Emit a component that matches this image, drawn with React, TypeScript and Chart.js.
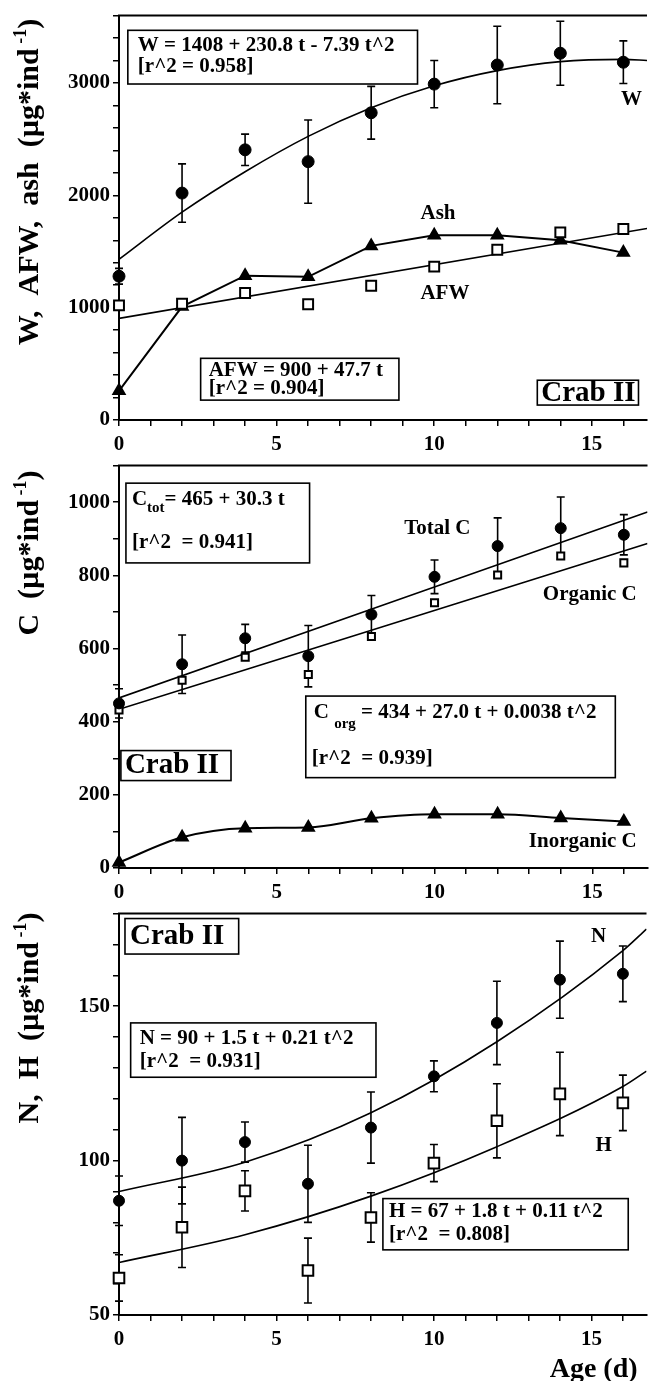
import React, { useEffect, useRef } from "react";
import { Chart, registerables } from "chart.js";
Chart.register(...registerables);

const FONT = "'Liberation Serif', 'Times New Roman', Times, serif";

// ---------- shared x categories ----------
const ages = [0, 2, 4, 6, 8, 10, 12, 14, 16];
const xMax = 16.75;

// ---------- panel 1 : W, AFW, ash ----------
const wValues = [1280, 2020, 2405, 2300, 2735, 2990, 3160, 3265, 3185];
const wErrors = [70, 260, 140, 370, 235, 210, 345, 285, 190];
const afwValues = [1020, 1035, 1130, 1030, 1195, 1365, 1515, 1670, 1700];
const ashValues = [260, 1010, 1285, 1275, 1550, 1645, 1645, 1600, 1490];
const wFitAges = [0, 2, 4, 6, 8, 10, 12, 14, 16, 16.75];
const wFitValues = [1430, 1850, 2210, 2525, 2780, 2975, 3110, 3190, 3210, 3200];
const afwFitAges = [0, 16.75];
const afwFitValues = [905, 1705];

// ---------- panel 2 : carbon ----------
const totalCValues = [450, 557, 628, 579, 693, 796, 880, 929, 911];
const totalCErrors = [40, 80, 38, 84, 52, 46, 77, 85, 55];
const organicCValues = [432, 513, 576, 529, 633, 725, 801, 853, 834];
const inorganicCValues = [15, 84, 109, 111, 136, 147, 147, 137, 127];
const totalCFitAges = [0, 16.75];
const totalCFitValues = [465, 973];
const organicCFitAges = [0, 8, 16.75];
const organicCFitValues = [434, 650, 887];

// ---------- panel 3 : N, H ----------
const nValues = [87, 100, 106, 92.5, 110.7, 127.3, 144.6, 158.6, 160.5];
const nErrors = [8, 14, 6.5, 12.5, 11.5, 5, 13.5, 12.5, 9];
const hValues = [62, 78.4, 90.2, 64.4, 81.6, 99.2, 112.9, 121.6, 118.7];
const hErrors = [7.5, 13, 6.5, 10.5, 8, 6, 12, 13.5, 9];
const nFitAges = [0, 4, 8, 12, 16, 16.75];
const nFitValues = [90, 99.5, 115.5, 138.5, 168, 175];
const hFitAges = [0, 4, 8, 12, 16, 16.75];
const hFitValues = [67, 76, 88.5, 104.5, 124, 129];

const pts = (xs: number[], ys: number[]) => xs.map((x, i) => ({ x, y: ys[i] }));

type Part = { text: string; size?: number; dy?: number };
type Line = { dx: number; dy: number; parts: Part[] };
type Box = { x1: number; y1: number; x2: number; y2: number; size: number; lines: Line[] };
type Label = { x: number; y: number; text: string; size: number };
type Panel = {
  top: number; height: number; padTop: number; xAxisH: number;
  yMin: number; yMax: number; yStep: number; yMajor: number;
  datasets: any[];
  errors: { values: number[]; errors: number[] }[];
  boxes: Box[];
  labels: Label[];
  title: { bx: number; cy: number; main: string };
  ageLabel?: boolean;
};

const circle = (data: any, r = 6) => ({
  data, showLine: false, pointStyle: "circle", pointRadius: r, pointHoverRadius: r,
  backgroundColor: "#000", borderColor: "#000", borderWidth: 1, clip: false,
});
const square = (data: any, r = 7) => ({
  data, showLine: false, pointStyle: "rect", pointRadius: r, pointHoverRadius: r,
  backgroundColor: "#fff", borderColor: "#000", borderWidth: 2, clip: false,
});
const triangle = (data: any, r = 6.5, tension = 0) => ({
  data, showLine: true, pointStyle: "triangle", pointRadius: r, pointHoverRadius: r,
  backgroundColor: "#000", borderColor: "#000", borderWidth: 2, clip: false,
  tension, cubicInterpolationMode: tension > 0 ? "monotone" : "default", fill: false,
});
const fit = (data: any, w = 1.6) => ({
  data, showLine: true, pointRadius: 0, pointHoverRadius: 0, borderColor: "#000",
  borderWidth: w, tension: 0.4, cubicInterpolationMode: "monotone", fill: false,
});

const panels: Panel[] = [
  {
    top: 0, height: 460, padTop: 12, xAxisH: 40,
    yMin: 0, yMax: 3600, yStep: 200, yMajor: 1000,
    datasets: [
      circle(pts(ages, wValues), 6),
      square(pts(ages, afwValues), 7),
      triangle(pts(ages, ashValues), 6.5, 0),
      fit(pts(wFitAges, wFitValues)),
      fit(pts(afwFitAges, afwFitValues)),
    ],
    errors: [{ values: wValues, errors: wErrors }],
    boxes: [
      { x1: 0.28, y1: 3469, x2: 9.47, y2: 2991, size: 21, lines: [
        { dx: 10, dy: 15, parts: [{ text: "W = 1408 + 230.8 t - 7.39 t^2" }] },
        { dx: 10, dy: 36, parts: [{ text: "[r^2 = 0.958]" }] },
      ] },
      { x1: 2.59, y1: 549, x2: 8.88, y2: 177, size: 21, lines: [
        { dx: 8, dy: 12, parts: [{ text: "AFW = 900 + 47.7 t" }] },
        { dx: 8, dy: 30, parts: [{ text: "[r^2 = 0.904]" }] },
      ] },
      { x1: 13.27, y1: 354, x2: 16.48, y2: 133, size: 29, lines: [
        { dx: 4, dy: 13, parts: [{ text: "Crab II" }] },
      ] },
    ],
    labels: [
      { x: 16.26, y: 2850, text: "W", size: 21 },
      { x: 10.12, y: 1841, text: "Ash", size: 21 },
      { x: 10.34, y: 1124, text: "AFW", size: 21 },
    ],
    title: { bx: 38, cy: 182, main: "W,  AFW,  ash  (µg*ind" },
  },
  {
    top: 450, height: 450, padTop: 10, xAxisH: 32,
    yMin: 0, yMax: 1100, yStep: 100, yMajor: 200,
    datasets: [
      circle(pts(ages, totalCValues), 5.5),
      square(pts(ages, organicCValues), 5),
      triangle(pts(ages, inorganicCValues), 6.5, 0.4),
      fit(pts(totalCFitAges, totalCFitValues)),
      fit(pts(organicCFitAges, organicCFitValues)),
    ],
    errors: [{ values: totalCValues, errors: totalCErrors }],
    boxes: [
      { x1: 0.22, y1: 1052, x2: 6.04, y2: 834, size: 21, lines: [
        { dx: 6, dy: 16, parts: [{ text: "C" }, { text: "tot", size: 15, dy: 9 }, { text: "= 465 + 30.3 t" }] },
        { dx: 6, dy: 59, parts: [{ text: "[r^2  = 0.941]" }] },
      ] },
      { x1: 5.92, y1: 470, x2: 15.73, y2: 247, size: 21, lines: [
        { dx: 8, dy: 17, parts: [{ text: "C " }, { text: "org", size: 15, dy: 11 }, { text: " = 434 + 27.0 t + 0.0038 t^2" }] },
        { dx: 6, dy: 63, parts: [{ text: "[r^2  = 0.939]" }] },
      ] },
      { x1: 0.06, y1: 321, x2: 3.55, y2: 239, size: 29, lines: [
        { dx: 4, dy: 15, parts: [{ text: "Crab II" }] },
      ] },
    ],
    labels: [
      { x: 10.09, y: 929, text: "Total C", size: 21 },
      { x: 14.92, y: 747, text: "Organic C", size: 21 },
      { x: 14.7, y: 71, text: "Inorganic C", size: 21 },
    ],
    title: { bx: 38, cy: 103, main: "C  (µg*ind" },
  },
  {
    top: 898, height: 483, padTop: 9, xAxisH: 66,
    yMin: 50, yMax: 180, yStep: 10, yMajor: 50,
    datasets: [
      circle(pts(ages, nValues), 5.5),
      square(pts(ages, hValues), 7.5),
      fit(pts(nFitAges, nFitValues)),
      fit(pts(hFitAges, hFitValues)),
    ],
    errors: [
      { values: nValues, errors: nErrors },
      { values: hValues, errors: hErrors },
    ],
    boxes: [
      { x1: 0.37, y1: 144.6, x2: 8.16, y2: 127, size: 21, lines: [
        { dx: 9, dy: 16, parts: [{ text: "N = 90 + 1.5 t + 0.21 t^2" }] },
        { dx: 9, dy: 39, parts: [{ text: "[r^2  = 0.931]" }] },
      ] },
      { x1: 8.38, y1: 87.7, x2: 16.17, y2: 71.1, size: 21, lines: [
        { dx: 6, dy: 13, parts: [{ text: "H = 67 + 1.8 t + 0.11 t^2" }] },
        { dx: 6, dy: 36, parts: [{ text: "[r^2  = 0.808]" }] },
      ] },
      { x1: 0.19, y1: 178.4, x2: 3.8, y2: 166.9, size: 29, lines: [
        { dx: 5, dy: 18, parts: [{ text: "Crab II" }] },
      ] },
    ],
    labels: [
      { x: 15.23, y: 172.4, text: "N", size: 21 },
      { x: 15.39, y: 105, text: "H", size: 21 },
    ],
    title: { bx: 38, cy: 120, main: "N,  H  (µg*ind" },
    ageLabel: true,
  },
];

function drawParts(ctx: CanvasRenderingContext2D, x: number, y: number, parts: Part[], base: number) {
  let cx = x;
  for (const p of parts) {
    const s = p.size ?? base;
    ctx.font = `bold ${s}px ${FONT}`;
    ctx.fillText(p.text, cx, y + (p.dy ?? 0));
    cx += ctx.measureText(p.text).width;
  }
}

function makePlugin(p: Panel) {
  return {
    id: "decor",
    beforeDatasetsDraw(chart: any) {
      const ctx = chart.ctx as CanvasRenderingContext2D;
      const xs = chart.scales.x, ys = chart.scales.y;
      ctx.save();
      ctx.strokeStyle = "#000";
      ctx.lineWidth = 1.6;
      for (const eb of p.errors) {
        eb.values.forEach((v, i) => {
          const e = eb.errors[i];
          const x = xs.getPixelForValue(ages[i]);
          const y1 = ys.getPixelForValue(v + e);
          const y2 = ys.getPixelForValue(v - e);
          ctx.beginPath();
          ctx.moveTo(x, y1); ctx.lineTo(x, y2);
          ctx.moveTo(x - 4, y1); ctx.lineTo(x + 4, y1);
          ctx.moveTo(x - 4, y2); ctx.lineTo(x + 4, y2);
          ctx.stroke();
        });
      }
      ctx.restore();
    },
    afterDraw(chart: any) {
      const ctx = chart.ctx as CanvasRenderingContext2D;
      const xs = chart.scales.x, ys = chart.scales.y;
      const area = chart.chartArea;
      ctx.save();
      ctx.strokeStyle = "#000";
      ctx.fillStyle = "#000";
      // top frame line
      ctx.lineWidth = 2;
      ctx.beginPath();
      ctx.moveTo(area.left - 1, area.top);
      ctx.lineTo(area.right, area.top);
      ctx.stroke();
      // boxes
      ctx.textBaseline = "middle";
      ctx.textAlign = "left";
      for (const b of p.boxes) {
        const x1 = xs.getPixelForValue(b.x1), x2 = xs.getPixelForValue(b.x2);
        const y1 = ys.getPixelForValue(b.y1), y2 = ys.getPixelForValue(b.y2);
        ctx.fillStyle = "#fff";
        ctx.fillRect(x1, y1, x2 - x1, y2 - y1);
        ctx.lineWidth = 1.6;
        ctx.strokeRect(x1, y1, x2 - x1, y2 - y1);
        ctx.fillStyle = "#000";
        for (const l of b.lines) drawParts(ctx, x1 + l.dx, y1 + l.dy, l.parts, b.size);
      }
      // labels
      ctx.textAlign = "center";
      for (const l of p.labels) {
        ctx.font = `bold ${l.size}px ${FONT}`;
        ctx.fillText(l.text, xs.getPixelForValue(l.x), ys.getPixelForValue(l.y));
      }
      // y title (rotated, with superscript)
      ctx.save();
      ctx.translate(p.title.bx, p.title.cy);
      ctx.rotate(-Math.PI / 2);
      ctx.textBaseline = "alphabetic";
      ctx.textAlign = "left";
      const big = 30, small = 18;
      ctx.font = `bold ${big}px ${FONT}`;
      const w1 = ctx.measureText(p.title.main).width;
      const w3 = ctx.measureText(")").width;
      ctx.font = `bold ${small}px ${FONT}`;
      const w2 = ctx.measureText(" -1").width;
      let sx = -(w1 + w2 + w3) / 2;
      ctx.font = `bold ${big}px ${FONT}`;
      ctx.fillText(p.title.main, sx, 0);
      sx += w1;
      ctx.font = `bold ${small}px ${FONT}`;
      ctx.fillText(" -1", sx, -12);
      sx += w2;
      ctx.font = `bold ${big}px ${FONT}`;
      ctx.fillText(")", sx, 0);
      ctx.restore();
      if (p.ageLabel) {
        ctx.font = `bold 28px ${FONT}`;
        ctx.textAlign = "center";
        ctx.textBaseline = "middle";
        ctx.fillText("Age (d)", xs.getPixelForValue(15.07), area.bottom + 55);
      }
      ctx.restore();
    },
  };
}

function PanelChart({ p }: { p: Panel }) {
  const ref = useRef<HTMLCanvasElement | null>(null);
  useEffect(() => {
    if (!ref.current) return;
    const gridCfg = {
      display: true, drawOnChartArea: false, drawTicks: true, tickLength: 6,
      color: "#000", lineWidth: 1.5,
    };
    const chart = new Chart(ref.current, {
      type: "scatter",
      data: { datasets: p.datasets },
      plugins: [makePlugin(p)],
      options: {
        animation: false,
        responsive: false,
        devicePixelRatio: 1,
        layout: { padding: { top: p.padTop, left: 0, right: 0, bottom: 0 } },
        plugins: { legend: { display: false }, tooltip: { enabled: false } },
        scales: {
          x: {
            type: "linear", min: 0, max: xMax,
            grid: gridCfg,
            border: { display: true, color: "#000", width: 2 },
            ticks: {
              stepSize: 1, autoSkip: false, maxRotation: 0, includeBounds: false,
              padding: 6, color: "#000",
              font: { family: FONT, size: 21, weight: "bold" },
              callback: (v: any) => (Number(v) % 5 === 0 ? String(v) : ""),
            },
            afterFit: (s: any) => { s.height = p.xAxisH; },
          },
          y: {
            type: "linear", min: p.yMin, max: p.yMax,
            grid: gridCfg,
            border: { display: true, color: "#000", width: 2 },
            ticks: {
              stepSize: p.yStep, autoSkip: false, includeBounds: false,
              padding: 3, color: "#000",
              font: { family: FONT, size: 21, weight: "bold" },
              callback: (v: any) => (Number(v) % p.yMajor === 0 ? String(v) : ""),
            },
            afterFit: (s: any) => { s.width = 119; },
          },
        },
      } as any,
    });
    return () => chart.destroy();
  }, [p]);
  return (
    <canvas
      ref={ref}
      width={656}
      height={p.height}
      style={{ position: "absolute", left: 0, top: p.top, width: 656, height: p.height }}
    />
  );
}

export default function App() {
  return (
    <div style={{ position: "absolute", left: 0, top: 0, width: 656, height: 1381, background: "#fff", overflow: "hidden" }}>
      {panels.map((p, i) => (
        <PanelChart key={i} p={p} />
      ))}
    </div>
  );
}
